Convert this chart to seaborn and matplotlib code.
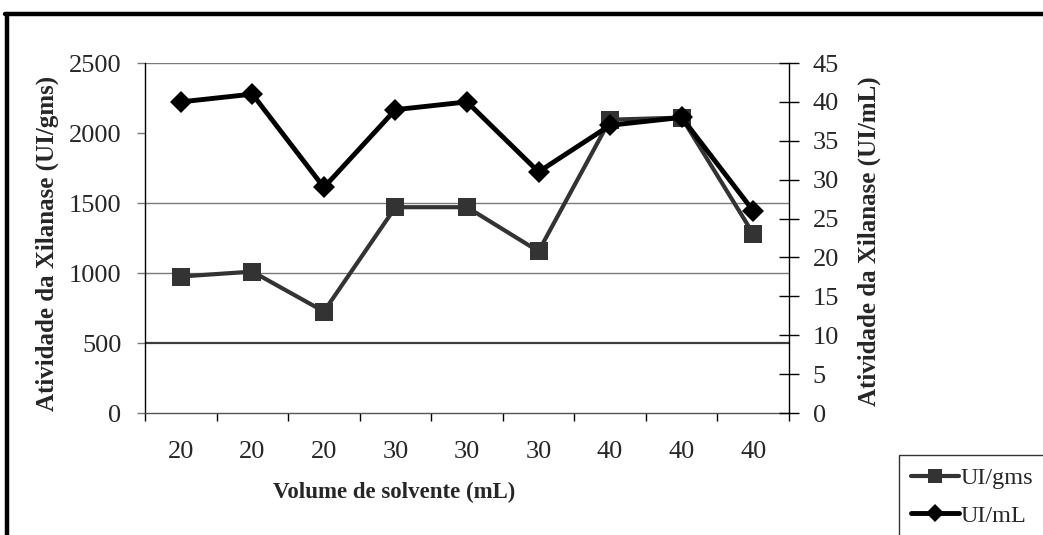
import numpy as np
import pandas as pd
import matplotlib
matplotlib.use("Agg")
import matplotlib.pyplot as plt
import seaborn as sns
from matplotlib.lines import Line2D

# Solvent volume per assay and the xylanase activity measured in each unit
volumes = ["20", "20", "20", "30", "30", "30", "40", "40", "40"]
ui_gms = [975, 1010, 725, 1470, 1470, 1155, 2095, 2110, 1280]
ui_ml = [40, 41, 29, 39, 40, 31, 37, 38, 26]

sns.set_theme(style="white")
plt.rcParams["font.family"] = ["Liberation Serif", "DejaVu Serif"]

df = pd.DataFrame({
    "pos": np.arange(len(volumes)),
    "volume": volumes,
    "UI/gms": ui_gms,
    "UI/mL": ui_ml,
})

W, H = 1043, 535
fig = plt.figure(figsize=(W / 100, H / 100), dpi=100)
fig.patch.set_facecolor("white")
ax = fig.add_axes([145 / W, 1 - 413 / H, (789 - 145) / W, (413 - 63) / H])
ax2 = ax.twinx()

sns.lineplot(data=df, x="pos", y="UI/gms", ax=ax, sort=False, color="#333333",
             lw=3.0, marker="s", markersize=13, markeredgewidth=0, legend=False)
sns.lineplot(data=df, x="pos", y="UI/mL", ax=ax2, sort=False, color="black",
             lw=3.5, marker="D", markersize=11, markeredgewidth=0, legend=False)

ax.set_xlim(-0.5, len(volumes) - 0.5)
ax.set_ylim(0, 2500)
ax2.set_ylim(0, 45)
ax.set_yticks(np.arange(0, 2501, 500))
ax2.set_yticks(np.arange(0, 46, 5))

# horizontal guide lines (no line at 2000)
for lvl in [1000, 1500, 2500]:
    ax.axhline(lvl, color="#7a7a7a", lw=1.0, zorder=0.5)
ax.axhline(500, color="#3c3c3c", lw=1.6, zorder=0.5)

# category labels at centres, tick marks at the boundaries
ax.set_xticks(df["pos"])
ax.set_xticklabels(volumes)
ax.set_xticks(np.arange(-0.5, len(volumes), 1.0), minor=True)
ax.tick_params(axis="x", which="major", length=0, pad=20, labelsize=19)
ax.tick_params(axis="x", which="minor", direction="out", length=6,
               width=1, color="black", bottom=True)
ax.tick_params(axis="y", direction="out", length=6, width=1, color="#7a7a7a",
               pad=11, labelsize=19, left=True)
ax2.tick_params(axis="y", direction="inout", length=14, width=1, color="black",
                pad=10, labelsize=19, right=True)

for s in ["top", "right"]:
    ax.spines[s].set_visible(False)
for s in ["top", "left", "bottom"]:
    ax2.spines[s].set_visible(False)
ax.spines["left"].set_color("black")
ax.spines["left"].set_linewidth(1.0)
ax.spines["bottom"].set_color("#555555")
ax.spines["bottom"].set_linewidth(1.0)
ax2.spines["right"].set_color("black")
ax2.spines["right"].set_linewidth(1.0)

ax.set_ylabel("Atividade da Xilanase (UI/gms)", fontsize=18, fontweight="bold")
ax.yaxis.set_label_coords((59 - 145) / 644, 0.485)
ax2.set_ylabel("Atividade da Xilanase (UI/mL)", fontsize=18, fontweight="bold",
               rotation=90)
ax2.yaxis.set_label_coords((858 - 145) / 644, 0.49)
ax.set_xlabel("Volume de solvente (mL)", fontsize=16.5, fontweight="bold")
ax.xaxis.set_label_coords((394 - 145) / 644, (413 - 482) / 350)

handles = [ax.lines[0], ax2.lines[0]]
leg = fig.legend(handles, ["UI/gms", "UI/mL"], loc="upper left",
                 bbox_to_anchor=(899 / W, 1 - 455 / H), borderaxespad=0,
                 fontsize=17.5, frameon=True, fancybox=False, edgecolor="black",
                 borderpad=0.5, handlelength=1.95, handletextpad=0.1,
                 labelspacing=0.65, markerscale=0.8)
leg.get_frame().set_linewidth(1.0)
leg.get_frame().set_facecolor("white")

# heavy frame around the chart
fig.add_artist(Line2D([5 / W, 1], [1 - 14 / H] * 2, transform=fig.transFigure,
                      color="black", lw=3.2))
fig.add_artist(Line2D([7 / W] * 2, [0, 1 - 14 / H], transform=fig.transFigure,
                      color="black", lw=3.2))

fig.savefig("out.png", dpi=100)
